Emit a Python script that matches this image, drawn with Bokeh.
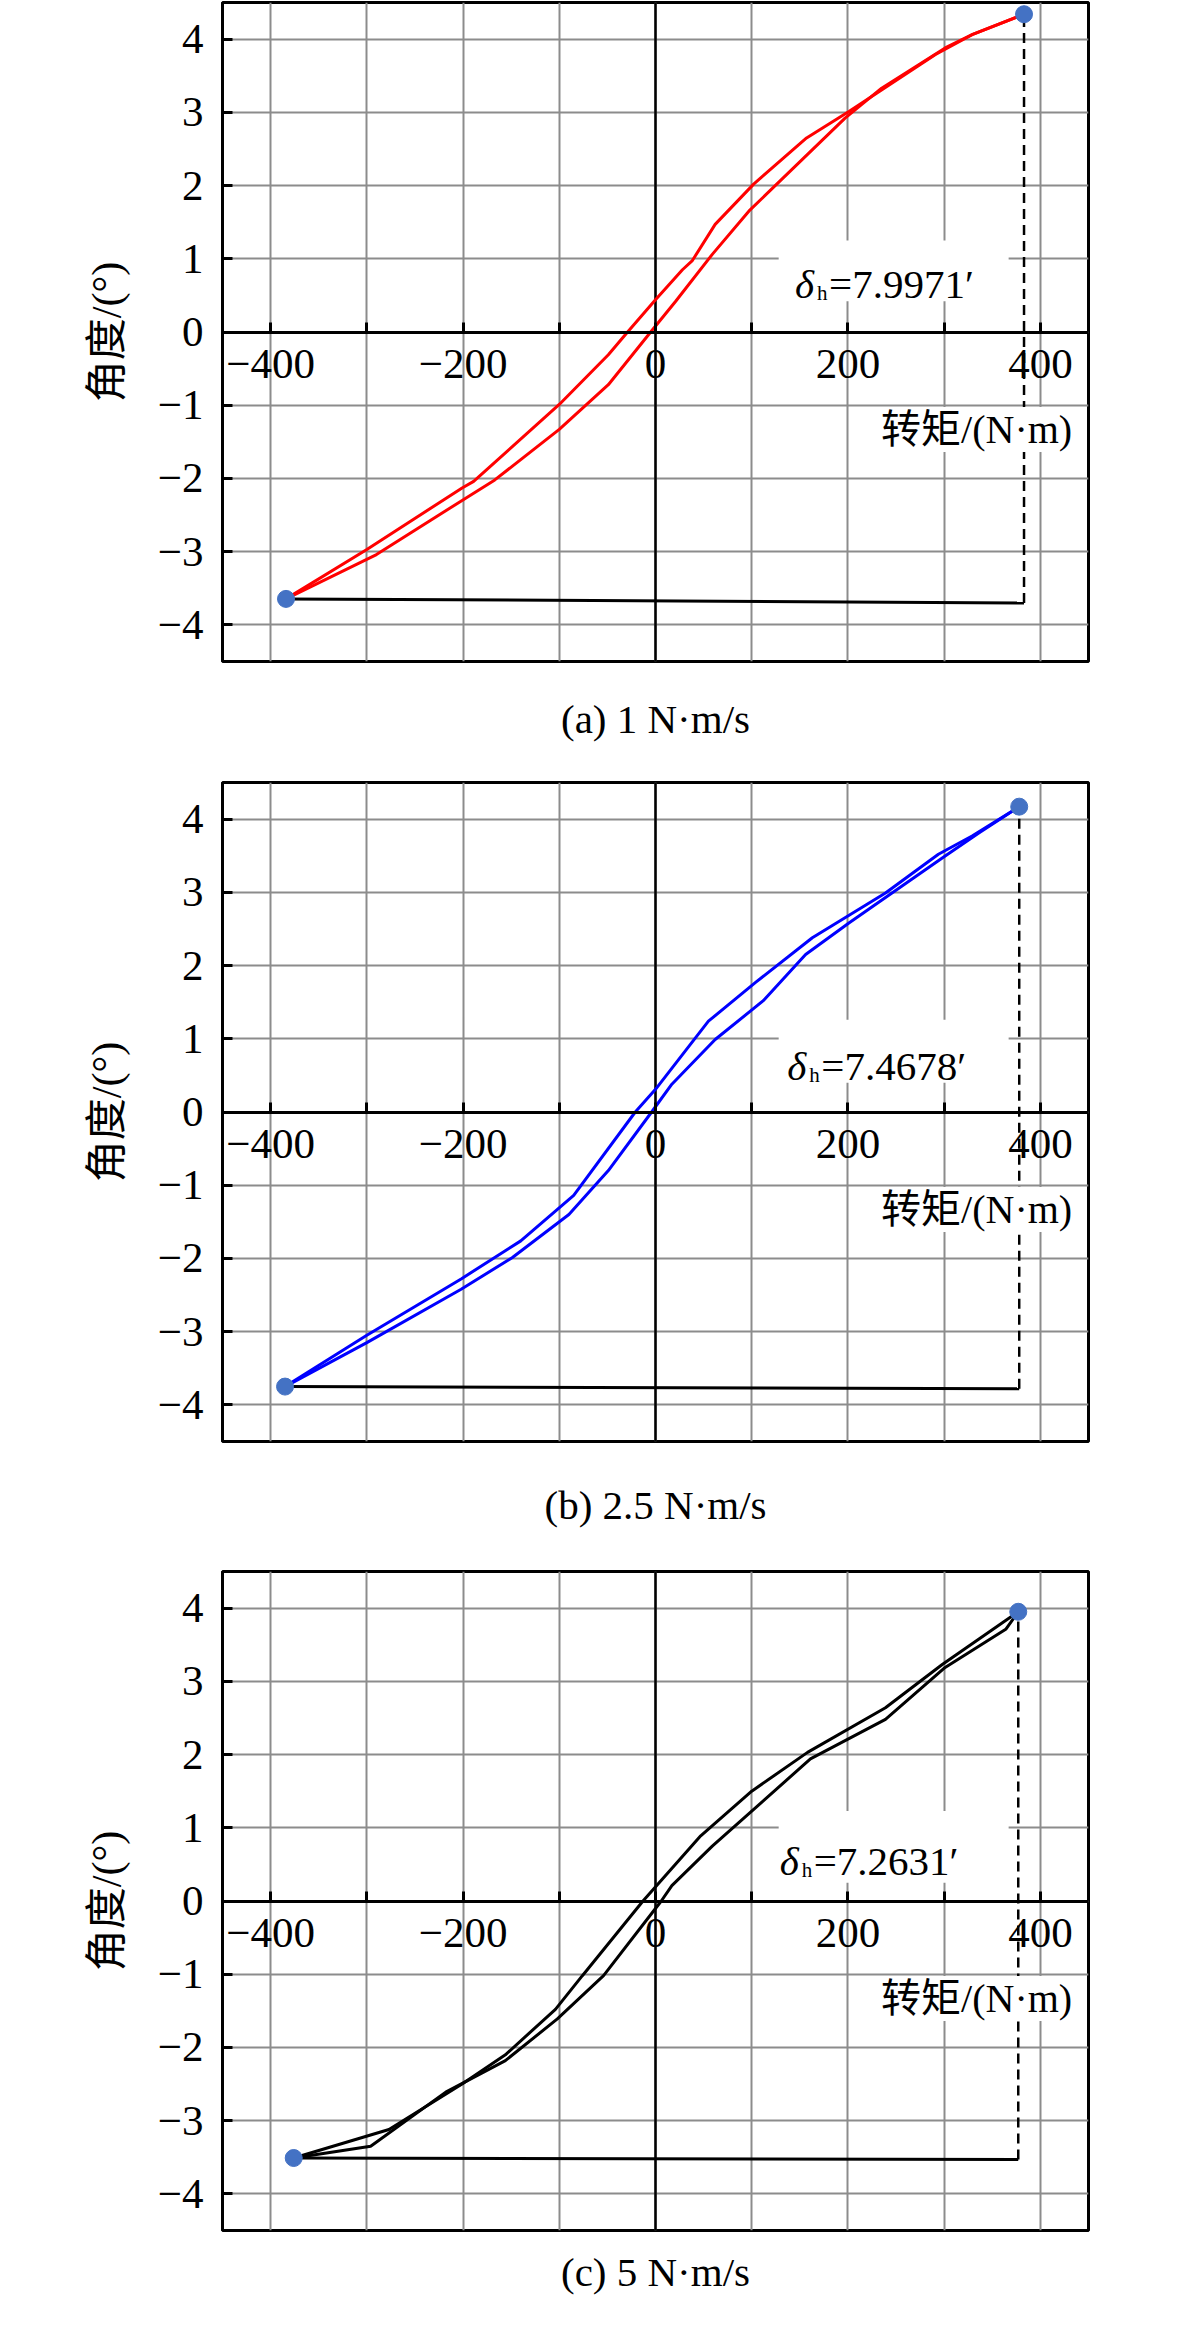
from bokeh.plotting import figure
from bokeh.models import Range1d, FixedTicker, Span, Label, BoxAnnotation, Title
from bokeh.layouts import column
from bokeh.embed import file_html
from bokeh.resources import INLINE

# ---------------- data ----------------
# panel (a) 1 N·m/s
a_load_x = [-384, -290, -201, -167, -100, -49, -5, 21, 59, 97, 197, 235, 301, 329, 383]
a_load_y = [-3.645, -3.04, -2.30, -2.02, -1.33, -0.72, 0.0, 0.42, 1.06, 1.65, 2.92, 3.33, 3.88, 4.06, 4.34]
a_unload_x = [-384, -300, -201, -189, -100, -49, -29, 0, 28, 38, 62, 102, 157, 201, 291, 329, 383]
a_unload_y = [-3.645, -2.97, -2.13, -2.04, -0.99, -0.31, 0.0, 0.44, 0.85, 0.97, 1.47, 2.02, 2.65, 3.01, 3.79, 4.06, 4.34]
a_base_x = [-384, 383]
a_base_y = [-3.645, -3.70]
a_dash_x = [383, 383]
a_dash_y = [-3.70, 4.34]
a_dot_x = [-384, 383]
a_dot_y = [-3.645, 4.34]

# panel (b) 2.5 N·m/s
b_load_x = [-385, -300, -202, -149, -90, -49, -4, 17, 62, 112, 156, 201, 298, 336, 378]
b_load_y = [-3.75, -3.15, -2.42, -1.99, -1.40, -0.80, 0.0, 0.38, 0.99, 1.52, 2.15, 2.58, 3.47, 3.81, 4.17]
b_unload_x = [-385, -300, -202, -140, -85, -21, 0, 55, 104, 163, 239, 294, 329, 378]
b_unload_y = [-3.75, -3.05, -2.28, -1.76, -1.14, 0.0, 0.31, 1.24, 1.77, 2.38, 2.99, 3.52, 3.77, 4.17]
b_base_x = [-385, 378]
b_base_y = [-3.75, -3.78]
b_dash_x = [378, 378]
b_dash_y = [-3.78, 4.17]
b_dot_x = [-385, 378]
b_dot_y = [-3.75, 4.17]

# panel (c) 5 N·m/s
c_load_x = [-376, -296, -218, -156, -102, -54, 6, 17, 59, 161, 239, 301, 364, 377]
c_load_y = [-3.51, -3.35, -2.61, -2.18, -1.61, -1.02, 0.0, 0.21, 0.75, 1.94, 2.48, 3.19, 3.71, 3.95]
c_unload_x = [-376, -277, -201, -156, -104, -76, -13, 47, 100, 158, 239, 298, 377]
c_unload_y = [-3.51, -3.12, -2.50, -2.10, -1.48, -1.02, 0.0, 0.89, 1.50, 2.03, 2.64, 3.23, 3.95]
c_base_x = [-376, 377]
c_base_y = [-3.51, -3.53]
c_dash_x = [377, 377]
c_dash_y = [-3.53, 3.95]
c_dot_x = [-376, 377]
c_dot_y = [-3.51, 3.95]

x_major_ticks = [-400, -200, 0, 200, 400]
x_minor_ticks = [-300, -100, 100, 300]
x_grid_ticks = [-400, -300, -200, -100, 0, 100, 200, 300, 400]
y_ticks = [-4, -3, -2, -1, 0, 1, 2, 3, 4]
x_tick_labels = {-400: "\u2212400", -200: "\u2212200", 0: "0", 200: "200", 400: "400"}
y_tick_labels = {-4: "\u22124", -3: "\u22123", -2: "\u22122", -1: "\u22121", 0: "0",
                 1: "1", 2: "2", 3: "3", 4: "4"}

x_label = "转矩/(N·m)"
y_label = "角度/(°)"
delta_values = ["=7.9971\u2032", "=7.4678\u2032", "=7.2631\u2032"]
captions = ["(a) 1 N·m/s", "(b) 2.5 N·m/s", "(c) 5 N·m/s"]

SERIF = "Liberation Serif"
MIX = "Liberation Serif, Noto Sans CJK SC"
GRID = "#8c8c8c"


def make_panel(lx, ly, ux, uy, bx, by, dx, dy, px, py, color, delta_txt, cap,
               ann_x, ann_y, box_bottom, box_top, bottom_border, cap_standoff):
    p = figure(frame_width=866, frame_height=659,
               x_range=Range1d(-450, 450), y_range=Range1d(-4.5, 4.5),
               output_backend="svg", toolbar_location=None,
               min_border_left=222, min_border_right=77,
               min_border_top=2, min_border_bottom=bottom_border)
    p.background_fill_color = "white"
    p.border_fill_color = "white"
    p.outline_line_color = "black"
    p.outline_line_width = 3
    p.outline_line_alpha = 1

    # grids
    p.xgrid.ticker = FixedTicker(ticks=x_grid_ticks)
    p.ygrid.ticker = FixedTicker(ticks=y_ticks)
    for g in (p.xgrid, p.ygrid):
        g.grid_line_color = GRID
        g.grid_line_width = 2
        g.grid_line_alpha = 1

    # x axis through y = 0
    xa = p.xaxis[0]
    xa.fixed_location = 0
    xa.ticker = FixedTicker(ticks=x_major_ticks, minor_ticks=x_minor_ticks)
    xa.major_label_overrides = x_tick_labels
    xa.axis_line_width = 3
    xa.axis_line_color = "black"
    xa.major_tick_in = 10
    xa.major_tick_out = 0
    xa.minor_tick_in = 10
    xa.minor_tick_out = 0
    xa.major_tick_line_width = 3
    xa.minor_tick_line_width = 3
    xa.major_label_standoff = 18
    xa.major_label_text_font = SERIF
    xa.major_label_text_font_style = "normal"
    xa.major_label_text_font_size = "43px"
    xa.major_label_text_color = "black"

    ya = p.yaxis[0]
    ya.ticker = FixedTicker(ticks=y_ticks, minor_ticks=[])
    ya.major_label_overrides = y_tick_labels
    ya.axis_line_width = 3
    ya.axis_line_color = "black"
    ya.major_tick_in = 10
    ya.major_tick_out = 0
    ya.major_tick_line_width = 3
    ya.major_label_standoff = 19
    ya.major_label_text_font = SERIF
    ya.major_label_text_font_style = "normal"
    ya.major_label_text_font_size = "43px"
    ya.major_label_text_color = "black"
    ya.axis_label = y_label
    ya.axis_label_text_font = MIX
    ya.axis_label_text_font_size = "42px"
    ya.axis_label_text_font_style = "normal"
    ya.axis_label_text_color = "black"
    ya.axis_label_standoff = 25

    # vertical line at x = 0
    p.add_layout(Span(location=0, dimension="height", line_color="black",
                      line_width=2.5, level="underlay"))

    # hysteresis curves
    p.line(lx, ly, line_color=color, line_width=3)
    p.line(ux, uy, line_color=color, line_width=3)
    # base and dashed lines
    p.line(bx, by, line_color="black", line_width=3)
    p.line(dx, dy, line_color="black", line_width=2.5, line_dash="10 6")
    # end points
    p.scatter(px, py, size=17, color="#4472C4")

    # annotation with white background
    p.add_layout(BoxAnnotation(left=128, right=367, bottom=box_bottom, top=box_top,
                               fill_color="white", fill_alpha=1, line_alpha=0))
    p.add_layout(Label(x=ann_x, y=ann_y, text="δ", text_font=SERIF,
                       text_font_style="italic", text_font_size="41px",
                       text_baseline="alphabetic", text_color="black"))
    p.add_layout(Label(x=ann_x, y=ann_y, x_offset=22, y_offset=-9, text="h",
                       text_font=SERIF, text_font_size="21px", text_font_style="normal",
                       text_baseline="alphabetic", text_color="black"))
    p.add_layout(Label(x=ann_x, y=ann_y, x_offset=34, text=delta_txt,
                       text_font=SERIF, text_font_size="41px", text_font_style="normal",
                       text_baseline="alphabetic", text_color="black"))

    # x axis label
    p.add_layout(Label(x=433, y=-1.33, text=x_label, text_font=MIX,
                       text_font_size="40px", text_align="right", text_font_style="normal",
                       text_baseline="middle", text_color="black",
                       background_fill_color="white"))

    # caption below the frame
    p.add_layout(Title(text=cap, align="center", text_font=SERIF,
                       text_font_size="41px", text_font_style="normal",
                       text_color="black", standoff=cap_standoff), "below")
    return p


pa = make_panel(a_load_x, a_load_y, a_unload_x, a_unload_y, a_base_x, a_base_y,
                a_dash_x, a_dash_y, a_dot_x, a_dot_y, "#ff0000", delta_values[0],
                captions[0], 145, 0.65, 0.42, 1.25, 119, 65)
pb = make_panel(b_load_x, b_load_y, b_unload_x, b_unload_y, b_base_x, b_base_y,
                b_dash_x, b_dash_y, b_dot_x, b_dot_y, "#0000ff", delta_values[1],
                captions[1], 137, 0.63, 0.40, 1.26, 128, 77)
pc = make_panel(c_load_x, c_load_y, c_unload_x, c_unload_y, c_base_x, c_base_y,
                c_dash_x, c_dash_y, c_dot_x, c_dot_y, "black", delta_values[2],
                captions[2], 129, 0.55, 0.25, 1.23, 82, 32)

layout = column(pa, pb, pc, spacing=0)
open("out.html", "w").write(file_html(layout, INLINE))
